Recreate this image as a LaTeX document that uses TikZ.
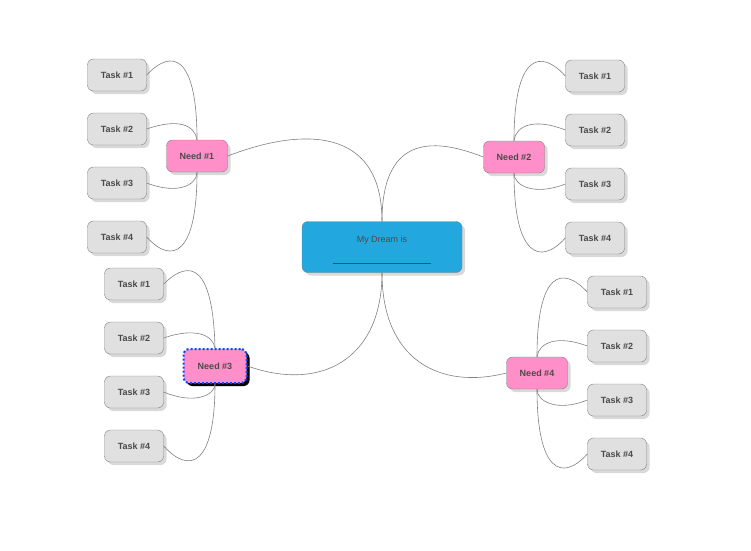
\documentclass[tikz,border=0pt]{standalone}
\usepackage{fontspec}
\setmainfont{Liberation Sans}
\usetikzlibrary{shadows}
\definecolor{txt}{HTML}{4A4A4A}
\definecolor{taskfill}{HTML}{E0E0E0}
\definecolor{needfill}{HTML}{FF8FC8}
\definecolor{dream}{HTML}{22A8DF}
\definecolor{edgec}{HTML}{808080}
\tikzset{
 base/.style={rounded corners=6pt,draw=edgec,text=txt,font=\bfseries\fontsize{9}{10}\selectfont,inner sep=0pt,drop shadow={shadow xshift=3pt,shadow yshift=-3pt,fill=black!25,opacity=0.6}},
 task/.style={base,fill=taskfill,minimum width=59pt,minimum height=32pt},
 need/.style={base,fill=needfill,minimum width=61pt,minimum height=32pt},
 conn/.style={draw=edgec,line width=0.6pt}
}
\begin{document}
\begin{tikzpicture}[x=1pt,y=-1pt]
\useasboundingbox (0,0) rectangle (751,550);
\node[base,fill=dream,minimum width=160pt,minimum height=51pt] (c) at (382,247) {};
\node[text=txt,font=\fontsize{9}{10}\selectfont] (ct) at (382,240) {My Dream is};
\draw[txt,line width=0.5pt] (333,263) -- (431,263);
\node[need] (n1) at (197,156) {Need \#1};
\node[need] (n2) at (514,157) {Need \#2};
\node[base,fill=needfill,minimum width=63pt,minimum height=34pt,draw=blue!70!cyan,line width=2pt,dotted,drop shadow={shadow xshift=3pt,shadow yshift=-3pt,fill=black,opacity=1}] (n3) at (215,366) {Need \#3};
\node[need] (n4) at (537,373) {Need \#4};
\foreach \i/\y in {1/75,2/129,3/183,4/237}{\node[task] (a\i) at (117,\y) {Task \#\i};}
\foreach \i/\y in {1/76,2/130,3/184,4/238}{\node[task] (b\i) at (595,\y) {Task \#\i};}
\foreach \i/\y in {1/284,2/338,3/392,4/446}{\node[task] (d\i) at (134,\y) {Task \#\i};}
\foreach \i/\y in {1/292,2/346,3/400,4/454}{\node[task] (e\i) at (617,\y) {Task \#\i};}
% center connectors
\draw[conn] (n1.east) .. controls (300,128) and (382,125) .. (c.north);
\draw[conn] (n2.west) .. controls (440,140) and (382,130) .. (c.north);
\draw[conn] (n3.east) .. controls (320,392) and (382,360) .. (c.south);
\draw[conn] (n4.west) .. controls (440,390) and (382,360) .. (c.south);
% need1
\draw[conn] (a1.east) .. controls (172,48) and (197,55) .. (n1.north);
\draw[conn] (a2.east) .. controls (178,118) and (195,125) .. (n1.north);
\draw[conn] (a3.east) .. controls (178,195) and (197,185) .. (n1.south);
\draw[conn] (a4.east) .. controls (172,265) and (197,255) .. (n1.south);
% need2
\draw[conn] (b1.west) .. controls (540,48) and (514,55) .. (n2.north);
\draw[conn] (b2.west) .. controls (535,118) and (516,125) .. (n2.north);
\draw[conn] (b3.west) .. controls (535,196) and (514,186) .. (n2.south);
\draw[conn] (b4.west) .. controls (540,266) and (514,256) .. (n2.south);
% need3
\draw[conn] (d1.east) .. controls (190,258) and (213,265) .. (n3.north);
\draw[conn] (d2.east) .. controls (195,327) and (213,335) .. (n3.north);
\draw[conn] (d3.east) .. controls (195,405) and (215,395) .. (n3.south);
\draw[conn] (d4.east) .. controls (190,475) and (215,465) .. (n3.south);
% need4
\draw[conn] (e1.west) .. controls (562,265) and (537,272) .. (n4.north);
\draw[conn] (e2.west) .. controls (558,335) and (539,342) .. (n4.north);
\draw[conn] (e3.west) .. controls (558,412) and (537,402) .. (n4.south);
\draw[conn] (e4.west) .. controls (562,482) and (537,472) .. (n4.south);
\end{tikzpicture}
\end{document}
